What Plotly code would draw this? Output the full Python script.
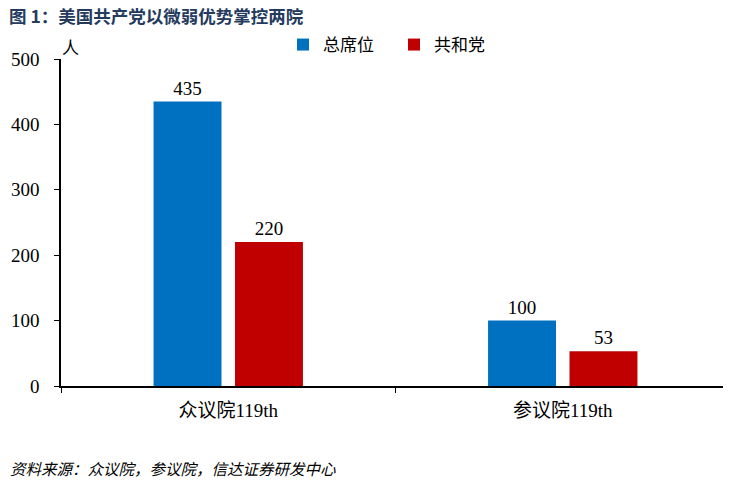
import plotly.graph_objects as go

categories = ["众议院119th", "参议院119th"]
total_seats = [435, 100]
republican_seats = [220, 53]

serif = "Liberation Serif, Times New Roman, Noto Sans CJK SC"
cjk = "Noto Sans CJK SC"

# the page puts the figure 8px in from the top-left corner
W, H = 723, 474
L, T, B, R = 53, 51, 96, 1
pw, ph = W - L - R, H - T - B

fig = go.Figure()
fig.add_trace(go.Bar(x=categories, y=total_seats, name="总席位",
                     marker_color="#0070C0", text=total_seats,
                     textposition="outside", cliponaxis=False))
fig.add_trace(go.Bar(x=categories, y=republican_seats, name="共和党",
                     marker_color="#C00000", text=republican_seats,
                     textposition="outside", cliponaxis=False))

fig.update_traces(textfont=dict(family=serif, size=19, color="black"),
                  marker_line_width=0)

fig.update_layout(
    width=W, height=H,
    margin=dict(l=L, r=R, t=T, b=B, autoexpand=False),
    plot_bgcolor="white", paper_bgcolor="white",
    barmode="group", bargap=0.513, bargroupgap=0.166,
    font=dict(family=serif, size=16, color="black"),
    showlegend=True,
    legend=dict(orientation="h", x=(275 - L) / pw, y=(378 - 37) / ph,
                xanchor="left", yanchor="middle", entrywidth=66,
                font=dict(family=cjk, size=17, color="black"),
                bgcolor="rgba(0,0,0,0)"),
)

fig.update_yaxes(range=[0, 500], dtick=100, showgrid=False, zeroline=False,
                 showline=True, linecolor="black", linewidth=1.5,
                 ticks="outside", ticklen=5, tickcolor="black",
                 ticklabelstandoff=11,
                 tickfont=dict(family=serif, size=19))
fig.update_xaxes(showgrid=False, showline=True, linecolor="black",
                 linewidth=1.5, ticks="outside", ticklen=5,
                 tickcolor="black", tickson="boundaries",
                 ticklabelstandoff=6,
                 tickfont=dict(family=serif, size=19))

fig.add_annotation(text="图 1：美国共产党以微弱优势掌控两院", xref="paper",
                   yref="paper", x=-L / pw, y=(378 - 8) / ph,
                   xanchor="left", yanchor="middle", showarrow=False,
                   borderpad=0,
                   font=dict(family=cjk, size=17.5, color="#243b5e",
                             weight="bold"))
fig.add_annotation(text="人", xref="paper", yref="paper", x=0.0,
                   y=(378 - 38) / ph, xanchor="left", yanchor="middle",
                   showarrow=False, borderpad=0,
                   font=dict(family=cjk, size=17))
fig.add_annotation(text="资料来源：众议院，参议院，信达证券研发中心",
                   xref="paper", yref="paper", x=-L / pw,
                   y=(378 - 460) / ph, xanchor="left", yanchor="middle",
                   showarrow=False,
                   font=dict(family=cjk, size=15.5, style="italic"))

fig.write_html("out.html")
